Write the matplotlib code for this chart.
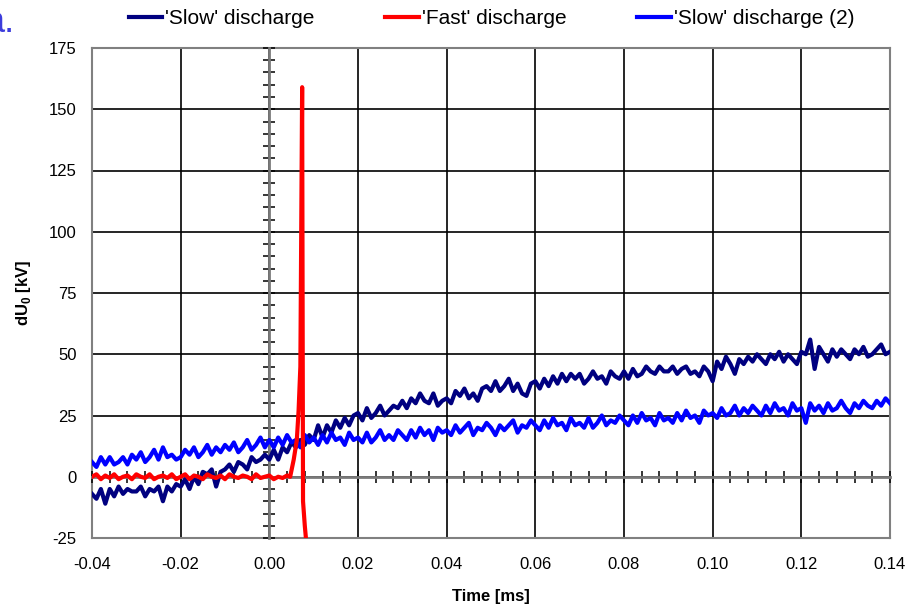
import numpy as np
import matplotlib
matplotlib.use("Agg")
import matplotlib.pyplot as plt
from matplotlib.ticker import MultipleLocator

plt.rcParams['font.family'] = ['Liberation Sans', 'DejaVu Sans']
plt.rcParams['mathtext.fontset'] = 'custom'
plt.rcParams['mathtext.rm'] = 'Liberation Sans'
plt.rcParams['mathtext.bf'] = 'Liberation Sans:bold'
plt.rcParams['axes.unicode_minus'] = False

# ---------------- data ----------------
t_start, t_step = -0.040, 0.001
slow_values = [
    -7, -9, -5, -11, -5, -8, -4, -7, -5, -6,
    -6, -4, -8, -5, -6, -4, -10, -4, -6, -3,
    -4, -1, -5, 0, -3, 2, 1, 3, -4, 2,
    3, 5, 2, 6, 5, 3, 8, 6, 7, 9,
    7, 11, 7, 12, 10, 14, 12, 15, 13, 17,
    15, 21, 16, 21, 18, 23, 20, 24, 21, 25,
    26, 23, 28, 24, 26, 29, 25, 27, 29, 28,
    31, 28, 32, 30, 34, 31, 30, 34, 29, 31,
    32, 30, 35, 33, 36, 32, 34, 31, 36, 37,
    35, 39, 35, 37, 40, 35, 38, 34, 33, 38,
    39, 36, 40, 37, 41, 38, 42, 39, 42, 40,
    42, 38, 40, 43, 40, 41, 38, 43, 41, 40,
    43, 40, 44, 41, 42, 45, 43, 42, 45, 43,
    43, 45, 42, 44, 45, 42, 43, 41, 45, 43,
    39, 47, 44, 49, 46, 42, 48, 46, 49, 47,
    50, 48, 46, 50, 48, 51, 47, 50, 48, 46,
    51, 50, 56, 44, 53, 50, 47, 52, 49, 52,
    50, 48, 52, 50, 53, 49, 50, 52, 54, 50,
    51,
]
slow2_values = [
    6, 4, 8, 5, 8, 5, 6, 8, 5, 9,
    7, 10, 6, 8, 11, 7, 12, 8, 9, 7,
    8, 11, 9, 12, 8, 10, 13, 9, 12, 10,
    13, 11, 14, 10, 12, 15, 11, 13, 16, 12,
    15, 12, 16, 13, 17, 14, 15, 12, 17, 14,
    16, 13, 17, 14, 18, 15, 16, 13, 18, 15,
    16, 14, 18, 14, 16, 19, 15, 17, 15, 19,
    17, 15, 19, 16, 20, 17, 19, 15, 20, 18,
    19, 17, 21, 18, 20, 22, 17, 20, 19, 22,
    20, 17, 21, 19, 21, 23, 18, 21, 20, 23,
    21, 19, 23, 20, 24, 21, 22, 19, 24, 21,
    22, 20, 24, 20, 22, 25, 21, 23, 22, 25,
    23, 21, 25, 22, 26, 23, 24, 21, 26, 23,
    24, 22, 26, 23, 27, 24, 25, 22, 27, 25,
    26, 24, 28, 25, 26, 29, 25, 28, 26, 29,
    27, 25, 29, 26, 30, 27, 28, 25, 30, 27,
    28, 22, 30, 27, 29, 26, 30, 27, 28, 31,
    28, 26, 30, 28, 31, 29, 28, 31, 29, 32,
    30,
]
fast_base_values = [
    0, 1, -1, 0.5, -0.5, 1, -1, 0, 0.5, -1,
    1, 0, -0.5, 1, -1, 0, 0.5, -0.5, 1, -1,
    0, 1, -1, 0.5, 0, -1, 1, 0, -0.5, 0.5,
    -1, 1, 0, -0.5, 0.5, 0, -1, 1, -0.5, 0,
    0.5, -1, 0, -0.5, 0.5,
]
fast_pulse_t = [0.0047, 0.0055, 0.0062, 0.0066, 0.0070, 0.0074, 0.0076, 0.0080, 0.0086]
fast_pulse_v = [0, 7, 15, 27, 45, 159, -10, -20, -32]

labels = ["'Slow' discharge", "'Fast' discharge", "'Slow' discharge (2)"]
colors = ['#000080', '#FF0000', '#0000FF']
x_ticks = [-0.04, -0.02, 0.00, 0.02, 0.04, 0.06, 0.08, 0.10, 0.12, 0.14]
y_ticks = [-25, 0, 25, 50, 75, 100, 125, 150, 175]

t_slow = t_start + t_step * np.arange(len(slow_values))
t_slow2 = t_start + t_step * np.arange(len(slow2_values))
t_fast = np.concatenate([t_start + t_step * np.arange(len(fast_base_values)), fast_pulse_t])
v_fast = np.concatenate([fast_base_values, fast_pulse_v])

# ---------------- figure ----------------
fig = plt.figure(figsize=(9.15, 6.08), dpi=100)
rect = [92 / 915, 70 / 608, 798 / 915, 490 / 608]
ax = fig.add_axes(rect)
ax.set_xlim(-0.04, 0.14)
ax.set_ylim(-25, 175)
ax.set_xticks(x_ticks)
ax.set_xticklabels([f"{v:.2f}" for v in x_ticks])
ax.set_yticks(y_ticks)
ax.tick_params(axis='both', length=0, labelsize=12)
ax.tick_params(axis='y', pad=11)
ax.tick_params(axis='x', pad=14)
ax.grid(True, color='black', linewidth=1.2)
for s in ax.spines.values():
    s.set_color('#808080')
    s.set_linewidth(1.5)
ax.set_xlabel('Time [ms]', fontsize=12, fontweight='bold')
ax.xaxis.set_label_coords(0.5, -0.104)
ax.set_ylabel(r'dU$_{\mathbf{0}}$ [kV]', fontsize=12, fontweight='bold')
ax.yaxis.set_label_coords(-0.074, 0.5)

# overlay axes with zero-crossing axis lines and the data
az = fig.add_axes(rect)
az.patch.set_visible(False)
az.set_xlim(-0.04, 0.14)
az.set_ylim(-25, 175)
for side in ['top', 'right']:
    az.spines[side].set_visible(False)
az.spines['left'].set_position(('data', 0))
az.spines['bottom'].set_position(('data', 0))
for side in ['left', 'bottom']:
    az.spines[side].set_color('#7a7a7a')
    az.spines[side].set_linewidth(2)
az.xaxis.set_major_locator(MultipleLocator(0.02))
az.xaxis.set_minor_locator(MultipleLocator(0.004))
az.yaxis.set_major_locator(MultipleLocator(25))
az.yaxis.set_minor_locator(MultipleLocator(5))
az.tick_params(which='both', direction='inout', length=8, width=1.1, color='black',
               labelbottom=False, labelleft=False)

l1, = az.plot(t_slow, slow_values, color=colors[0], lw=3, zorder=3, label=labels[0])
l2, = az.plot(t_fast, v_fast, color=colors[1], lw=3, zorder=4, label=labels[1])
l3, = az.plot(t_slow2, slow2_values, color=colors[2], lw=3, zorder=3, label=labels[2])

fig.legend(handles=[l1, l2, l3], labels=labels, loc='center', ncol=3,
           bbox_to_anchor=(0.537, 1 - 19 / 608), frameon=False, fontsize=15,
           handlelength=1.6, handletextpad=0.15, columnspacing=3.4)

fig.text(-15 / 915, 1 - 32 / 608, 'a.', fontsize=26, color='#3c3cdc', va='baseline')

fig.savefig('out.png', dpi=100)
